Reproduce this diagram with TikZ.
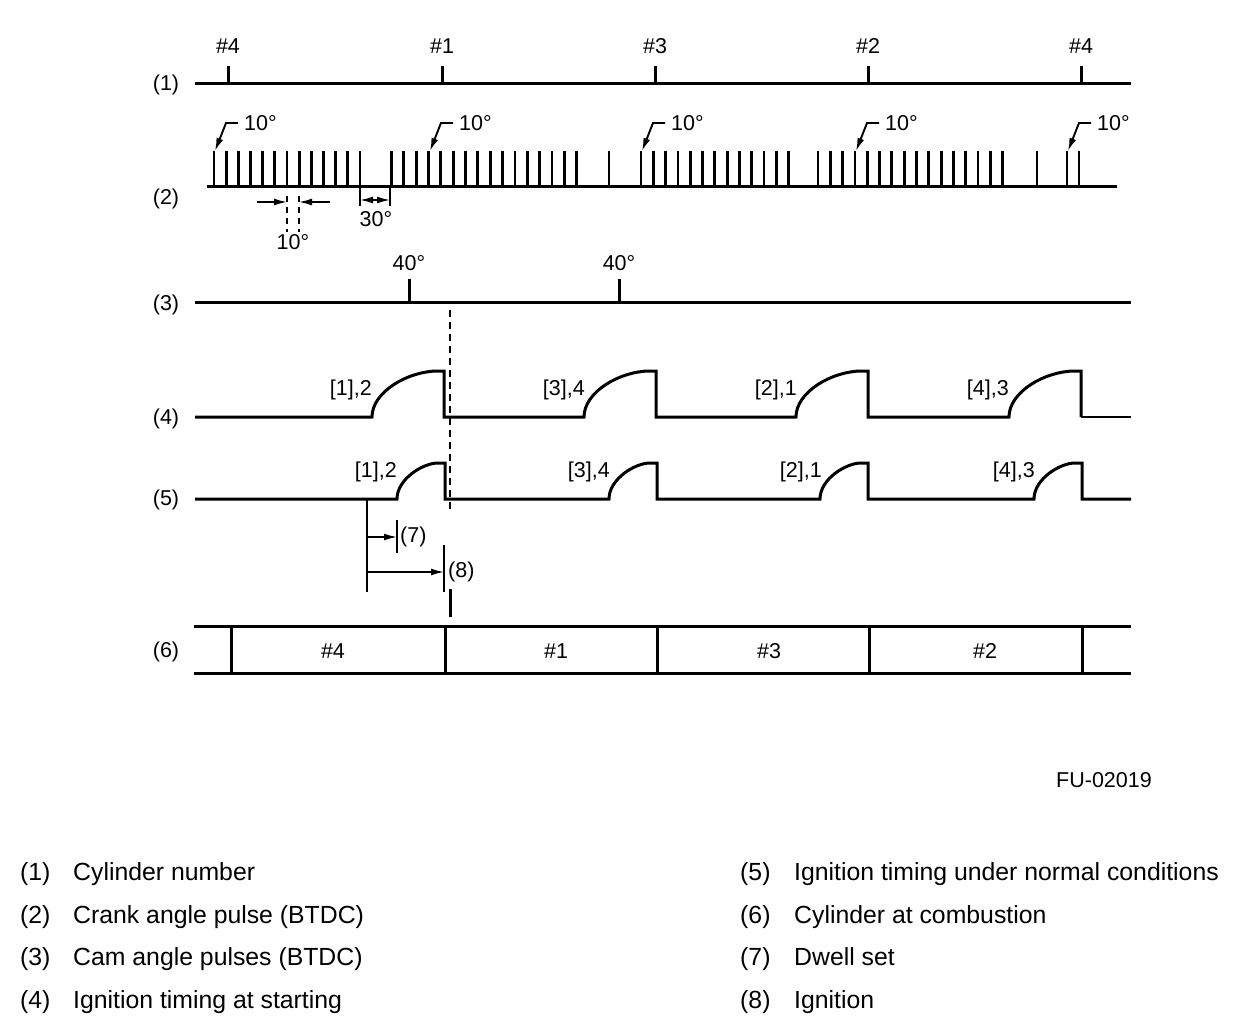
\documentclass[tikz,border=0pt]{standalone}
\usepackage{fontspec}
\setmainfont{Liberation Sans}
\usetikzlibrary{arrows.meta}
\begin{document}
\begin{tikzpicture}[x=1pt,y=-1pt,
  mainline/.style={line width=3pt},
  pulseline/.style={line width=2.8pt},
  thinline/.style={line width=1.6pt},
  dashline/.style={line width=2pt,dash pattern=on 7pt off 5pt},
  tipA/.style={-{Latex[length=13pt,width=7pt]}},
  lbl/.style={inner sep=0pt,font=\fontsize{21.5}{25}\selectfont,text height=15.4pt,text depth=0pt},
  leg/.style={inner sep=0pt,font=\fontsize{24.8}{29}\selectfont,text height=17.8pt,text depth=0pt,anchor=west}
]
\useasboundingbox (0,0) rectangle (1248,1036);

% ---------- row labels
\node[lbl] (r1) at (166,83) {(1)};
\node[lbl] (r2) at (166,197) {(2)};
\node[lbl] (r3) at (166,303) {(3)};
\node[lbl] (r4) at (166,417) {(4)};
\node[lbl] (r5) at (166,498) {(5)};
\node[lbl] (r6) at (166,650) {(6)};

% ---------- (1) cylinder number
\draw[mainline] (195,83) -- (1131,83);
\foreach \x/\t [count=\i] in {228/\#4,442/\#1,655/\#3,868/\#2,1081/\#4}{
  \draw[mainline] (\x,83) -- (\x,66);
  \node[lbl] (cyl\i) at (\x,46) {\t};
}

% ---------- (2) crank angle pulses
\draw[mainline] (207,186) -- (1117,186);
\foreach \k in {0,...,12} \draw[pulseline] ({214+12.17*\k},187) -- ++(0,-36);
\foreach \k in {0,...,15} \draw[pulseline] ({391.5+12.34*\k},187) -- ++(0,-36);
\draw[pulseline] (609,187) -- ++(0,-36);
\foreach \k in {0,...,12} \draw[pulseline] ({641+12.3*\k},187) -- ++(0,-36);
\foreach \k in {0,...,15} \draw[pulseline] ({818+12.31*\k},187) -- ++(0,-36);
\foreach \x in {1037,1067,1079} \draw[pulseline] (\x,187) -- ++(0,-36);

% 10 degree leaders
\foreach \p [count=\i] in {214,429,641,855,1067}{
  \coordinate (tip\i) at (\p+1,151);
  \node[lbl,anchor=west] (deg\i) at (\p+30,123) {10°};
  \draw[line width=1.9pt,tipA] ([xshift=-6pt]deg\i.west) -- ++(-12,0) -- (tip\i);
}

% 10 degree dimension
\coordinate (da) at (287,196);
\coordinate (db) at (299,196);
\draw[line width=1.7pt,dash pattern=on 6pt off 5pt] (da) -- ++(0,36);
\draw[line width=1.7pt,dash pattern=on 6pt off 5pt] (db) -- ++(0,36);
\coordinate (da1) at (257,202);
\coordinate (da2) at (287,202);
\coordinate (db1) at (330,202);
\coordinate (db2) at (299,202);
\draw[thinline,tipA] (da1) -- (da2);
\draw[thinline,tipA] (db1) -- (db2);
\node[lbl] (dim10) at (293,242) {10°};

% 30 degree dimension
\coordinate (ta) at (360,187);
\coordinate (tb) at (390,187);
\draw[thinline] (ta) -- ++(0,19);
\draw[thinline] (tb) -- ++(0,19);
\coordinate (ta1) at (360,200);
\coordinate (tb1) at (390,200);
\coordinate (tm) at (375,200);
\draw[thinline,tipA] (tm) -- (ta1);
\draw[thinline,tipA] (tm) -- (tb1);
\node[lbl] (dim30) at (376,219) {30°};

% ---------- (3) cam angle pulses
\draw[mainline] (195,302) -- (1131,302);
\draw[mainline] (409,302) -- (409,279);
\draw[mainline] (619,302) -- (619,279);
\node[lbl] (cam1) at (409,263) {40°};
\node[lbl] (cam2) at (619,263) {40°};

% dashed reference line
\coordinate (dl1) at (450,310);
\coordinate (dl2) at (450,512);
\draw[dashline] (dl1) -- (dl2);

% ---------- (4) ignition timing at starting
\draw[mainline,line join=miter] (195,417)
  \foreach \d in {444,656,868,1081}{
    -- ({\d-72},417) .. controls ({\d-72},391.6) and ({\d-35.6},371) .. ({\d-6},371)
    -- (\d,371) -- (\d,417)
  };
\draw[line width=1.8pt] (1081,417) -- (1131,417);
\node[lbl,anchor=east] (s1) at (372,388) {[1],2};
\node[lbl,anchor=east] (s2) at (585,388) {[3],4};
\node[lbl,anchor=east] (s3) at (797,388) {[2],1};
\node[lbl,anchor=east] (s4) at (1009,388) {[4],3};

% ---------- (5) ignition timing under normal conditions
\draw[mainline,line join=miter] (195,499)
  \foreach \d in {445,657,868,1082}{
    -- ({\d-48},499) .. controls ({\d-48},479) and ({\d-22},463) .. ({\d-7},463)
    -- (\d,463) -- (\d,499)
  } -- (1131,499);
\node[lbl,anchor=east] (n1) at (397,470) {[1],2};
\node[lbl,anchor=east] (n2) at (610,470) {[3],4};
\node[lbl,anchor=east] (n3) at (822,470) {[2],1};
\node[lbl,anchor=east] (n4) at (1035,470) {[4],3};

% dwell / ignition dimensions
\coordinate (v0) at (367,499);
\coordinate (v1) at (367,592);
\draw[thinline] (v0) -- (v1);
\coordinate (w1) at (397,520);
\coordinate (w2) at (397,553);
\draw[thinline] (w1) -- (w2);
\coordinate (i1) at (444,545);
\coordinate (i2) at (444,592);
\draw[thinline] (i1) -- (i2);
\coordinate (a7s) at (367,537);
\coordinate (a7e) at (397,537);
\draw[thinline,tipA] (a7s) -- (a7e);
\coordinate (a8s) at (367,572);
\coordinate (a8e) at (444,572);
\draw[thinline,tipA] (a8s) -- (a8e);
\node[lbl,anchor=west] (l7) at (400,535) {(7)};
\node[lbl,anchor=west] (l8) at (448,570) {(8)};
\coordinate (ig1) at (450,589);
\coordinate (ig2) at (450,617);
\draw[mainline] (ig1) -- (ig2);

% ---------- (6) cylinder at combustion
\draw[mainline] (194,626) -- (1131,626);
\draw[mainline] (194,673) -- (1131,673);
\foreach \x in {231,445,657,869,1082} \draw[mainline] (\x,626) -- (\x,673);
\node[lbl] (c1) at (333,651) {\#4};
\node[lbl] (c2) at (556,651) {\#1};
\node[lbl] (c3) at (769,651) {\#3};
\node[lbl] (c4) at (985,651) {\#2};

% ---------- figure id
\node[lbl] (fu) at (1104,780) {FU-02019};

% ---------- legend
\node[leg] (k1) at (20,872) {(1)};
\node[leg] (t1) at (73,872) {Cylinder number};
\node[leg] (k2) at (20,914.5) {(2)};
\node[leg] (t2) at (73,914.5) {Crank angle pulse (BTDC)};
\node[leg] (k3) at (20,957) {(3)};
\node[leg] (t3) at (73,957) {Cam angle pulses (BTDC)};
\node[leg] (k4) at (20,999.5) {(4)};
\node[leg] (t4) at (73,999.5) {Ignition timing at starting};
\node[leg] (k5) at (740,872) {(5)};
\node[leg] (t5) at (794,872) {Ignition timing under normal conditions};
\node[leg] (k6) at (740,914.5) {(6)};
\node[leg] (t6) at (794,914.5) {Cylinder at combustion};
\node[leg] (k7) at (740,957) {(7)};
\node[leg] (t7) at (794,957) {Dwell set};
\node[leg] (k8) at (740,999.5) {(8)};
\node[leg] (t8) at (794,999.5) {Ignition};
\end{tikzpicture}
\end{document}
